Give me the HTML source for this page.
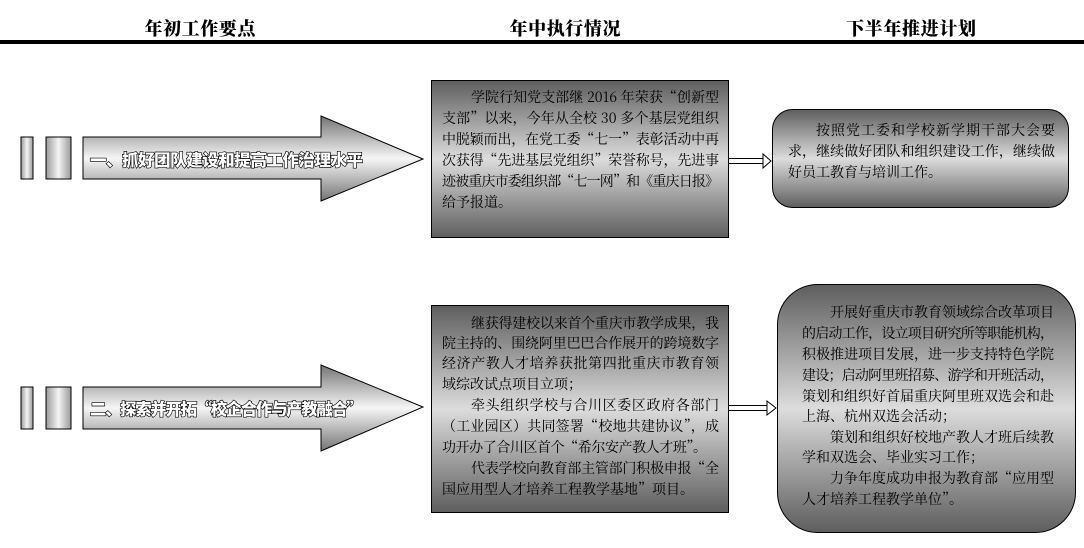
<!DOCTYPE html>
<html><head><meta charset="utf-8"><style>
html,body{margin:0;padding:0;background:#fff;width:1084px;height:548px;overflow:hidden}
svg{display:block}
.h{font-family:"Noto Serif CJK SC","Liberation Serif",serif;font-weight:900;font-size:18px;fill:#000}
.t{font-family:"Noto Serif CJK SC","Liberation Serif",serif;font-size:14px;fill:#000}
.a{font-family:"Noto Sans CJK SC","Liberation Sans",sans-serif;font-weight:900;font-size:16.5px;fill:#fff;stroke:#000;stroke-width:1.3px;paint-order:stroke}
</style></head><body>
<svg width="1084" height="548" viewBox="0 0 1084 548" xmlns="http://www.w3.org/2000/svg">
<defs>
<linearGradient id="gb" x1="0" y1="0" x2="0" y2="1">
<stop offset="0" stop-color="#5e5e5e"/><stop offset="0.5" stop-color="#dcdcdc"/><stop offset="1" stop-color="#5e5e5e"/></linearGradient>
<linearGradient id="ga" x1="0" y1="0" x2="0" y2="1">
<stop offset="0" stop-color="#747474"/><stop offset="0.5" stop-color="#f6f6f6"/><stop offset="1" stop-color="#747474"/></linearGradient>
<linearGradient id="gr" x1="0" y1="0" x2="1" y2="0">
<stop offset="0" stop-color="#9a9a9a"/><stop offset="0.5" stop-color="#f4f4f4"/><stop offset="1" stop-color="#9a9a9a"/></linearGradient>
</defs>
<text class="h" x="200" y="28" text-anchor="middle" dominant-baseline="central" textLength="111">年初工作要点</text>
<text class="h" x="565" y="28" text-anchor="middle" dominant-baseline="central" textLength="111">年中执行情况</text>
<text class="h" x="911" y="28" text-anchor="middle" dominant-baseline="central" textLength="130">下半年推进计划</text>
<rect x="0" y="40" width="1084" height="4" fill="#000"/>

<!-- row 1 -->
<rect x="21" y="137" width="12" height="42" fill="url(#gr)" stroke="#000"/>
<rect x="46" y="137" width="25" height="42" fill="url(#gr)" stroke="#000"/>
<polygon points="83,137 321,137 321,116 423,159 321,201 321,179 83,179" fill="url(#ga)" stroke="#000"/>
<text class="a" x="90" y="159" dominant-baseline="central" textLength="273">一、抓好团队建设和提高工作治理水平</text>
<rect x="431.5" y="80.5" width="297" height="157" fill="url(#gb)" stroke="#000"/>
<g class="t" dominant-baseline="central">
<text x="471" y="97" textLength="248">学院行知党支部继 2016 年荣获“创新型</text>
<text x="442" y="118" textLength="277">支部”以来，今年从全校 30 多个基层党组织</text>
<text x="442" y="139" textLength="277">中脱颖而出，在党工委“七一”表彰活动中再</text>
<text x="442" y="160" textLength="277">次获得“先进基层党组织”荣誉称号，先进事</text>
<text x="442" y="181" textLength="277">迹被重庆市委组织部“七一网”和《重庆日报》</text>
<text x="442" y="202">给予报道。</text>
</g>
<path d="M729,158.5 H764 M729,163.5 H764" stroke="#000" stroke-width="1"/>
<polygon points="763,154 771,161 763,168" fill="#fff" stroke="#000"/>
<rect x="772.5" y="109.5" width="296" height="98" rx="20" fill="url(#gb)" stroke="#000"/>
<g class="t" dominant-baseline="central">
<text x="816" y="130" textLength="239">按照党工委和学校新学期干部大会要</text>
<text x="788" y="151" textLength="267">求，继续做好团队和组织建设工作，继续做</text>
<text x="788" y="172">好员工教育与培训工作。</text>
</g>

<!-- row 2 -->
<rect x="21" y="387" width="12" height="42" fill="url(#gr)" stroke="#000"/>
<rect x="46" y="387" width="25" height="42" fill="url(#gr)" stroke="#000"/>
<polygon points="83,387 321,387 321,365 423,407 321,451 321,429 83,429" fill="url(#ga)" stroke="#000"/>
<text class="a" x="90" y="408" dominant-baseline="central" textLength="273">二、探索并开拓“校企合作与产教融合”</text>
<rect x="431.5" y="305.5" width="297" height="207" fill="url(#gb)" stroke="#000"/>
<g class="t" dominant-baseline="central">
<text x="471" y="323" textLength="248">继获得建校以来首个重庆市教学成果，我</text>
<text x="442" y="343" textLength="277">院主持的、围绕阿里巴巴合作展开的跨境数字</text>
<text x="442" y="363" textLength="277">经济产教人才培养获批第四批重庆市教育领</text>
<text x="442" y="384">域综改试点项目立项；</text>
<text x="471" y="405" textLength="248">牵头组织学校与合川区委区政府各部门</text>
<text x="442" y="426" textLength="277">（工业园区）共同签署“校地共建协议”，成</text>
<text x="442" y="447" textLength="265">功开办了合川区首个“希尔安产教人才班”。</text>
<text x="471" y="468" textLength="248">代表学校向教育部主管部门积极申报“全</text>
<text x="442" y="489">国应用型人才培养工程教学基地”项目。</text>
</g>
<path d="M729,405.5 H768 M729,410.5 H768" stroke="#000" stroke-width="1"/>
<polygon points="767,401 776,408 767,415" fill="#fff" stroke="#000"/>
<rect x="777.5" y="284.5" width="298" height="248" rx="40" fill="url(#gb)" stroke="#000"/>
<g class="t" dominant-baseline="central">
<text x="830" y="312" textLength="224">开展好重庆市教育领域综合改革项目</text>
<text x="802" y="333" textLength="252">的启动工作，设立项目研究所等职能机构，</text>
<text x="802" y="354" textLength="252">积极推进项目发展，进一步支持特色学院</text>
<text x="802" y="375" textLength="252">建设；启动阿里班招募、游学和开班活动，</text>
<text x="802" y="396" textLength="252">策划和组织好首届重庆阿里班双选会和赴</text>
<text x="802" y="416">上海、杭州双选会活动；</text>
<text x="830" y="437" textLength="224">策划和组织好校地产教人才班后续教</text>
<text x="802" y="457">学和双选会、毕业实习工作；</text>
<text x="830" y="478" textLength="224">力争年度成功申报为教育部“应用型</text>
<text x="802" y="499">人才培养工程教学单位”。</text>
</g>
</svg>
</body></html>
